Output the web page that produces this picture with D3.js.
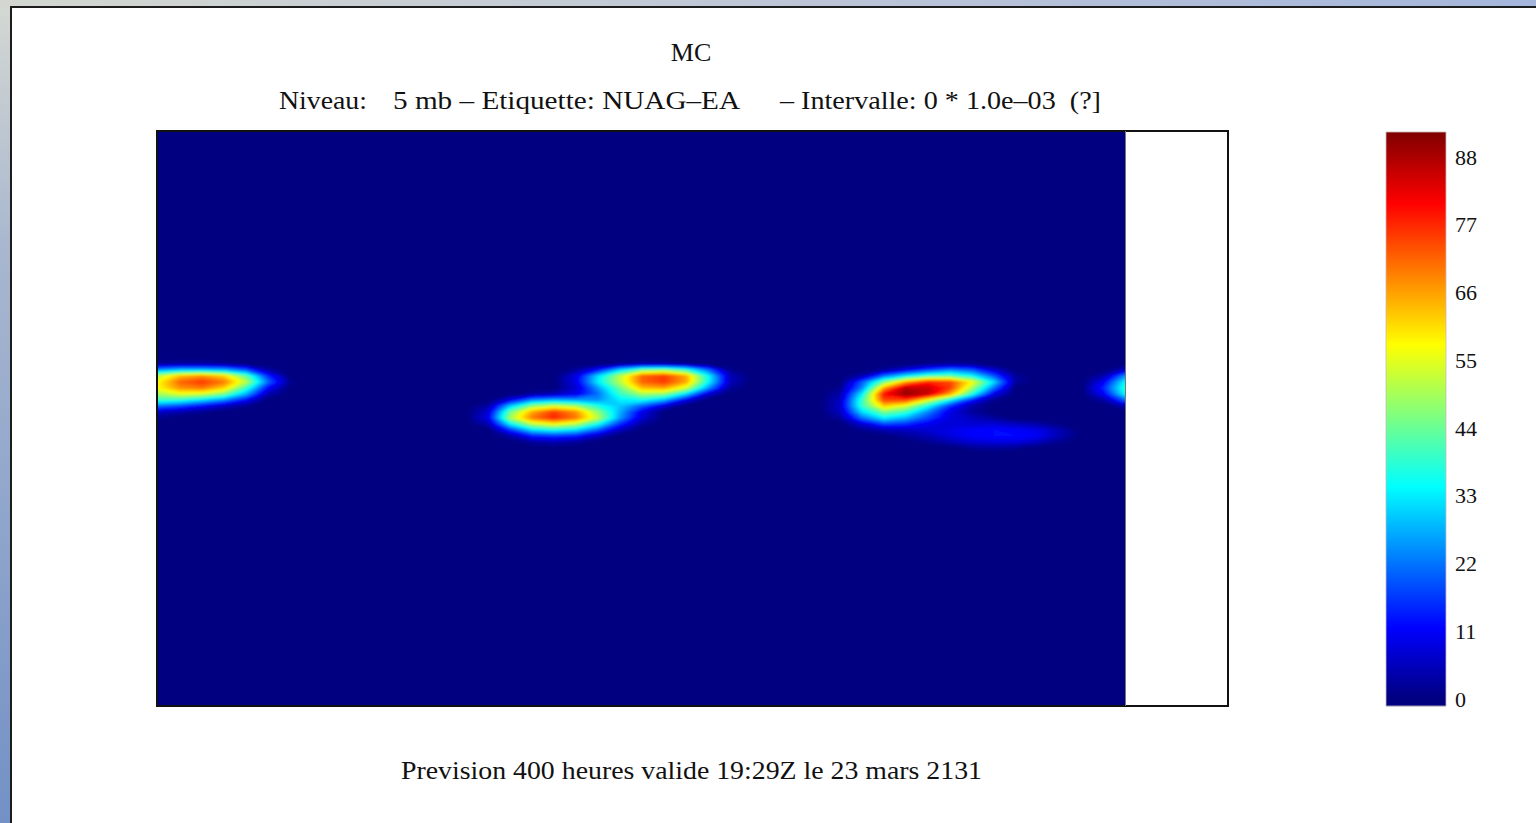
<!DOCTYPE html>
<html>
<head>
<meta charset="utf-8">
<script src="https://cdn.jsdelivr.net/npm/d3@7"></script>
<style>
  body { margin: 0; overflow: hidden; background: #8ea4cc; }
  svg { display: block; }
  text { font-family: "Liberation Serif", "DejaVu Serif", serif; fill: #111; }
</style>
</head>
<body>
<svg id="chart" width="1536" height="823"></svg>
<script>
// ---- values ----
var titleText = "MC";
var subtitleParts = ["Niveau:", "5 mb \u2013 Etiquette: NUAG\u2013EA", "\u2013 Intervalle: 0 * 1.0e\u201303  (?]"];
var footerText = "Prevision 400 heures valide 19:29Z le 23 mars 2131";
var colorTicks = [0, 11, 22, 33, 44, 55, 66, 77, 88];
var colorMax = 92;

// field values on a coarse grid (rows top->bottom, columns left->right) across the band with clouds
var field = [
  [0,0,0,0,0,0,0,0,0,0, 0,0,0,0,0,0,0,0,0,0, 0,0,0,0,0,0,0,0,0,0, 0,0,0,0,0,0,0,0,0,0, 0,0,0,0,0],
  [3,4,4,3,1,0,0,0,0,0, 0,0,0,0,0,0,0,0,0,0, 0,2,4,4,2,0,0,0,0,0, 0,0,0,0,0,2,3,2,0,0, 0,0,0,0,0],
  [26,30,30,28,20,4,0,0,0,0, 0,0,0,0,0,0,0,0,0,3, 14,32,46,48,40,22,2,0,0,0, 0,0,0,3,10,18,24,20,8,0, 0,0,0,0,8],
  [52,64,68,62,44,16,0,0,0,0, 0,0,0,0,0,0,0,0,0,10, 32,52,72,76,66,36,6,0,0,0, 0,0,5,22,34,42,44,36,20,3, 0,0,0,5,26],
  [58,72,76,70,52,22,2,0,0,0, 0,0,0,0,0,0,0,0,0,10, 34,52,72,76,66,36,6,0,0,0, 0,0,20,46,66,78,75,58,32,3, 0,0,0,12,36],
  [58,68,70,62,40,12,0,0,0,0, 0,0,0,0,0,0,0,0,0,8, 26,45,64,66,54,26,3,0,0,0, 0,2,24,66,88,86,76,50,22,0, 0,0,0,16,40],
  [50,56,54,46,28,5,0,0,0,0, 0,0,0,0,0,0,0,3,5,10, 22,40,50,48,32,8,0,0,0,0, 0,4,34,80,91,86,66,38,10,0, 0,0,0,12,36],
  [40,38,32,24,12,0,0,0,0,0, 0,0,0,0,0,0,10,24,28,26, 25,34,36,28,10,0,0,0,0,0, 0,6,40,75,75,56,35,14,2,0, 0,0,0,4,22],
  [22,18,12,6,2,0,0,0,0,0, 0,0,0,0,0,4,30,48,54,50, 38,30,20,8,0,0,0,0,0,0, 0,7,40,62,54,36,16,4,0,0, 0,0,0,0,6],
  [6,4,2,0,0,0,0,0,0,0, 0,0,0,0,0,8,45,66,76,68, 48,28,10,0,0,0,0,0,0,0, 0,6,32,46,40,24,10,3,0,0, 0,0,0,0,0],
  [2,0,0,0,0,0,0,0,0,0, 0,0,0,0,0,10,50,70,78,70, 52,26,8,0,0,0,0,0,0,0, 0,3,22,34,28,18,9,6,3,0, 0,0,0,0,0],
  [0,0,0,0,0,0,0,0,0,0, 0,0,0,0,0,5,34,52,58,52, 36,16,3,0,0,0,0,0,0,0, 0,0,8,18,16,11,8,8,8,6, 4,1,0,0,0],
  [0,0,0,0,0,0,0,0,0,0, 0,0,0,0,0,0,16,32,36,32, 20,6,0,0,0,0,0,0,0,0, 0,0,2,5,6,8,10,12,13,12, 10,5,0,0,0],
  [0,0,0,0,0,0,0,0,0,0, 0,0,0,0,0,0,4,14,16,14, 6,0,0,0,0,0,0,0,0,0, 0,0,0,0,3,5,9,12,13,13, 11,5,0,0,0],
  [0,0,0,0,0,0,0,0,0,0, 0,0,0,0,0,0,0,3,5,3, 0,0,0,0,0,0,0,0,0,0, 0,0,0,0,0,2,5,8,9,9, 6,2,0,0,0],
  [0,0,0,0,0,0,0,0,0,0, 0,0,0,0,0,0,0,0,0,0, 0,0,0,0,0,0,0,0,0,0, 0,0,0,0,0,0,0,2,3,2, 0,0,0,0,0],
  [0,0,0,0,0,0,0,0,0,0, 0,0,0,0,0,0,0,0,0,0, 0,0,0,0,0,0,0,0,0,0, 0,0,0,0,0,0,0,0,0,0, 0,0,0,0,0]
];

// ---- layout ----
var svg = d3.select("#chart");
var W = 1536, H = 823;
var frame = {left: 157, top: 131, right: 1228, bottom: 706};
var dataRight = 1125;
var band = {x0: 158, x1: 1126, y0: 358, y1: 454};
var bar = {x: 1386, w: 60, top: 132, bottom: 706};

var defs = svg.append("defs");

// page background (blue textured surround)
var bgGrad = defs.append("linearGradient").attr("id", "bgGrad")
    .attr("x1", 0).attr("y1", 0).attr("x2", 0).attr("y2", 1);
bgGrad.append("stop").attr("offset", "0%").attr("stop-color", "#d5d9d3");
bgGrad.append("stop").attr("offset", "30%").attr("stop-color", "#a9b7cf");
bgGrad.append("stop").attr("offset", "100%").attr("stop-color", "#7391c6");
var topGrad = defs.append("linearGradient").attr("id", "topGrad");
topGrad.append("stop").attr("offset", "0%").attr("stop-color", "#d3d7d0");
topGrad.append("stop").attr("offset", "60%").attr("stop-color", "#b9c3d8");
topGrad.append("stop").attr("offset", "100%").attr("stop-color", "#a4b6dc");

svg.append("rect").attr("width", W).attr("height", H).attr("fill", "url(#bgGrad)");
svg.append("rect").attr("width", W).attr("height", 8).attr("fill", "url(#topGrad)");

// white panel
svg.append("rect")
    .attr("x", 11).attr("y", 7).attr("width", W).attr("height", H)
    .attr("fill", "#fff").attr("stroke", "#1c1c1c").attr("stroke-width", 2);

// colour scale (jet)
var jet = d3.scaleLinear()
    .domain([0, colorMax / 8, colorMax * 3 / 8, colorMax * 5 / 8, colorMax * 7 / 8, colorMax])
    .range(["#000080", "#0000ff", "#00ffff", "#ffff00", "#ff0000", "#800000"])
    .clamp(true);

// ---- heat map ----
defs.append("clipPath").attr("id", "dataClip").append("rect")
    .attr("x", frame.left + 1).attr("y", frame.top + 1)
    .attr("width", dataRight - frame.left - 1).attr("height", frame.bottom - frame.top - 1);
defs.append("filter").attr("id", "soft")
    .attr("x", "-5%").attr("y", "-5%").attr("width", "110%").attr("height", "110%")
  .append("feGaussianBlur").attr("stdDeviation", 1.0);

var nx = field[0].length, ny = field.length;
var gx = d3.scaleLinear().domain([0, nx - 1]).range([band.x0, band.x1]);
var gy = d3.scaleLinear().domain([0, ny - 1]).range([band.y0, band.y1]);
var values = [].concat.apply([], field);

var contours = d3.contours()
    .size([nx, ny])
    .thresholds(d3.range(1, colorMax, 1))(values);

var path = d3.geoPath(d3.geoTransform({
  point: function(x, y) { this.stream.point(gx(x - 0.5), gy(y - 0.5)); }
}));

var heat = svg.append("g").attr("clip-path", "url(#dataClip)")
  .append("g").attr("filter", "url(#soft)");
heat.append("rect")
    .attr("x", frame.left - 10).attr("y", frame.top - 10)
    .attr("width", dataRight - frame.left + 30).attr("height", frame.bottom - frame.top + 20)
    .attr("fill", jet(0));
heat.selectAll("path.band")
  .data(contours)
  .join("path")
    .attr("class", "band")
    .attr("d", path)
    .attr("fill", function(d) { return jet(d.value); });

// frame
svg.append("rect")
    .attr("x", frame.left).attr("y", frame.top)
    .attr("width", frame.right - frame.left).attr("height", frame.bottom - frame.top)
    .attr("fill", "none").attr("stroke", "#111").attr("stroke-width", 2);
svg.append("line")
    .attr("x1", dataRight + 0.5).attr("x2", dataRight + 0.5)
    .attr("y1", frame.top).attr("y2", frame.bottom)
    .attr("stroke", "#777").attr("stroke-width", 1);

// ---- titles ----
svg.append("text")
    .attr("x", 691).attr("y", 61)
    .attr("text-anchor", "middle")
    .attr("font-size", 26)
    .text(titleText);

var subX = [279, 393, 780], subW = [88, 347, 321];
svg.selectAll("text.sub")
  .data(subtitleParts)
  .join("text")
    .attr("class", "sub")
    .attr("x", function(d, i) { return subX[i]; })
    .attr("y", 109)
    .attr("font-size", 25)
    .attr("textLength", function(d, i) { return subW[i]; })
    .attr("lengthAdjust", "spacingAndGlyphs")
    .style("white-space", "pre")
    .text(function(d) { return d; });

svg.append("text")
    .attr("x", 401).attr("y", 779)
    .attr("font-size", 25)
    .attr("textLength", 581)
    .attr("lengthAdjust", "spacingAndGlyphs")
    .text(footerText);

// ---- colour bar ----
var cb = d3.scaleLinear().domain([0, 88]).range([699, 157]);
var barRows = d3.range(bar.top, bar.bottom);
svg.append("g").selectAll("rect")
  .data(barRows)
  .join("rect")
    .attr("x", bar.x).attr("y", function(d) { return d; })
    .attr("width", bar.w).attr("height", 1.2)
    .attr("fill", function(d) { return jet(cb.invert(d + 0.5)); });
svg.append("rect")
    .attr("x", bar.x).attr("y", bar.top)
    .attr("width", bar.w).attr("height", bar.bottom - bar.top)
    .attr("fill", "none").attr("stroke", "#c9b9b9").attr("stroke-width", 0.8);

var axis = d3.axisRight(cb).tickValues(colorTicks).tickSize(0).tickPadding(9);
var ag = svg.append("g")
    .attr("transform", "translate(" + (bar.x + bar.w) + ",0)")
    .call(axis);
ag.select(".domain").remove();
ag.selectAll("text")
    .attr("font-family", "Liberation Serif, DejaVu Serif, serif")
    .attr("font-size", 22)
    .attr("fill", "#111");
</script>
</body>
</html>
